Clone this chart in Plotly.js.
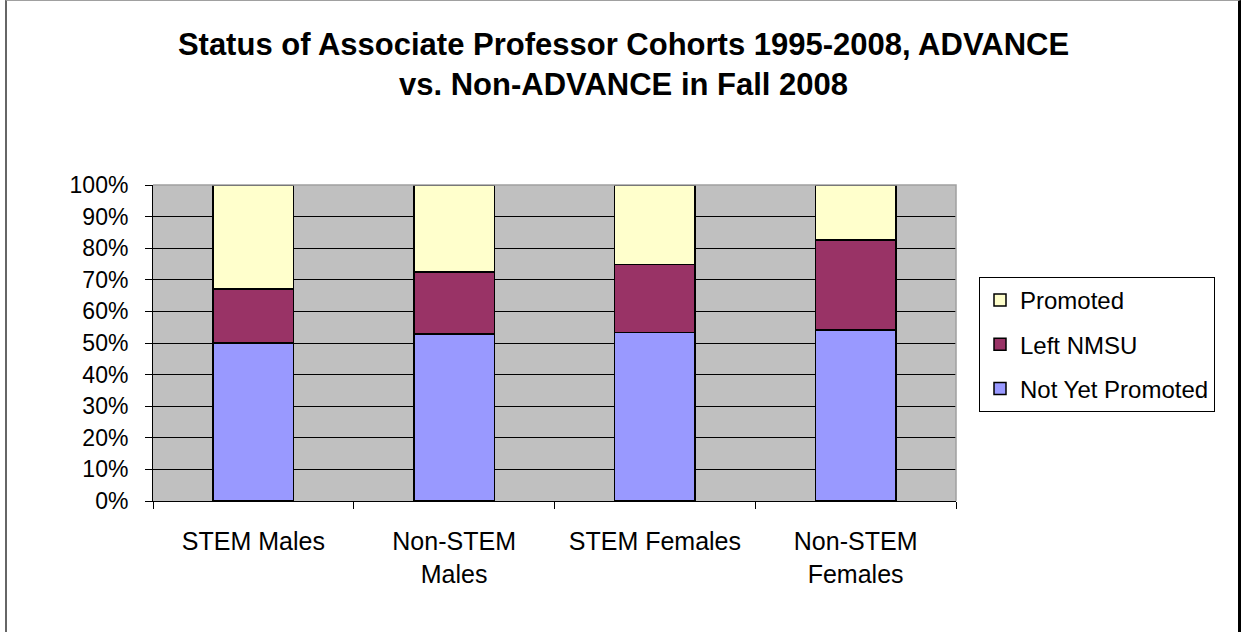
<!DOCTYPE html>
<html>
<head>
<meta charset="utf-8">
<script src="https://cdn.plot.ly/plotly-3.0.1.min.js"></script>
<style>
  html, body { margin: 0; padding: 0; background: #fff; }
  #wrap { position: relative; width: 1247px; height: 632px; overflow: hidden; }
  #chart { width: 1247px; height: 632px; }
  #frame { position: absolute; left: 5px; top: 0; width: 1236px; height: 640px;
           border-left: 2px solid #666; border-top: 1px solid #a0a0a0; border-right: 3px solid #000;
           pointer-events: none; box-sizing: border-box; }
</style>
</head>
<body>
<div id="wrap">
  <div id="chart"></div>
  <div id="frame"></div>
</div>
<script>
const categories = ["STEM Males", "Non-STEM<br>Males", "STEM Females", "Non-STEM<br>Females"];
const notYetPromoted = [50.0, 52.8, 53.4, 54.1];
const leftNMSU = [17.1, 19.6, 21.4, 28.5];
const promoted = [32.9, 27.6, 25.2, 17.4];
const yTickVals = [0, 10, 20, 30, 40, 50, 60, 70, 80, 90, 100];

const lineStyle = { color: "#000000", width: 1.5 };
const traces = [
  { type: "bar", name: "Not Yet Promoted", x: categories, y: notYetPromoted, legendgroup: "c", legendrank: 3,
    marker: { color: "#9999FF", line: lineStyle }, hoverinfo: "y+name" },
  { type: "bar", name: "Left NMSU", x: categories, y: leftNMSU, legendgroup: "b", legendrank: 2,
    marker: { color: "#993366", line: lineStyle }, hoverinfo: "y+name" },
  { type: "bar", name: "Promoted", x: categories, y: promoted, legendgroup: "a", legendrank: 1,
    marker: { color: "#FFFFCC", line: lineStyle }, hoverinfo: "y+name" }
];

const layout = {
  width: 1247, height: 632,
  margin: { l: 153, r: 291, t: 185, b: 131 },
  paper_bgcolor: "#ffffff",
  plot_bgcolor: "#C0C0C0",
  barmode: "stack",
  bargap: 0.6,
  font: { family: "Arial, 'Liberation Sans', sans-serif", color: "#000000" },
  title: {
    text: "<b>Status of Associate Professor Cohorts 1995-2008, ADVANCE<br>vs. Non-ADVANCE in Fall 2008</b>",
    font: { size: 31, color: "#000000" },
    x: 0.5, xanchor: "center",
    yref: "container", y: 1 - 54.5 / 632, yanchor: "middle"
  },
  xaxis: {
    type: "category",
    showline: true, linecolor: "#000000", linewidth: 1,
    ticks: "outside", tickson: "boundaries", ticklen: 7, tickcolor: "#000000",
    tickfont: { size: 25, color: "#000000" },
    ticklabelstandoff: 18,
    showgrid: false, zeroline: false
  },
  yaxis: {
    range: [0, 100],
    tickvals: yTickVals,
    ticktext: yTickVals.map(v => v + "%"),
    showline: true, linecolor: "#000000", linewidth: 1,
    ticks: "outside", ticklen: 7, tickcolor: "#000000",
    tickfont: { size: 23, color: "#000000" },
    ticklabelstandoff: 12,
    showgrid: true, gridcolor: "#000000", gridwidth: 1,
    zeroline: false, fixedrange: true
  },
  legend: {
    x: (979 - 153) / 803, xanchor: "left",
    y: (501 - 277) / 316, yanchor: "top",
    bgcolor: "#ffffff", bordercolor: "#000000", borderwidth: 1,
    font: { size: 24, color: "#000000" },
    traceorder: "grouped",
    tracegroupgap: 10
  },
  shapes: [
    { type: "path", xref: "paper", yref: "paper", path: "M 0 1 L 1 1 L 1 0",
      line: { color: "#a0a0a0", width: 1.5 }, layer: "above" }
  ],
  showlegend: true
};

Plotly.newPlot("chart", traces, layout, { displayModeBar: false, staticPlot: true });
</script>
</body>
</html>
